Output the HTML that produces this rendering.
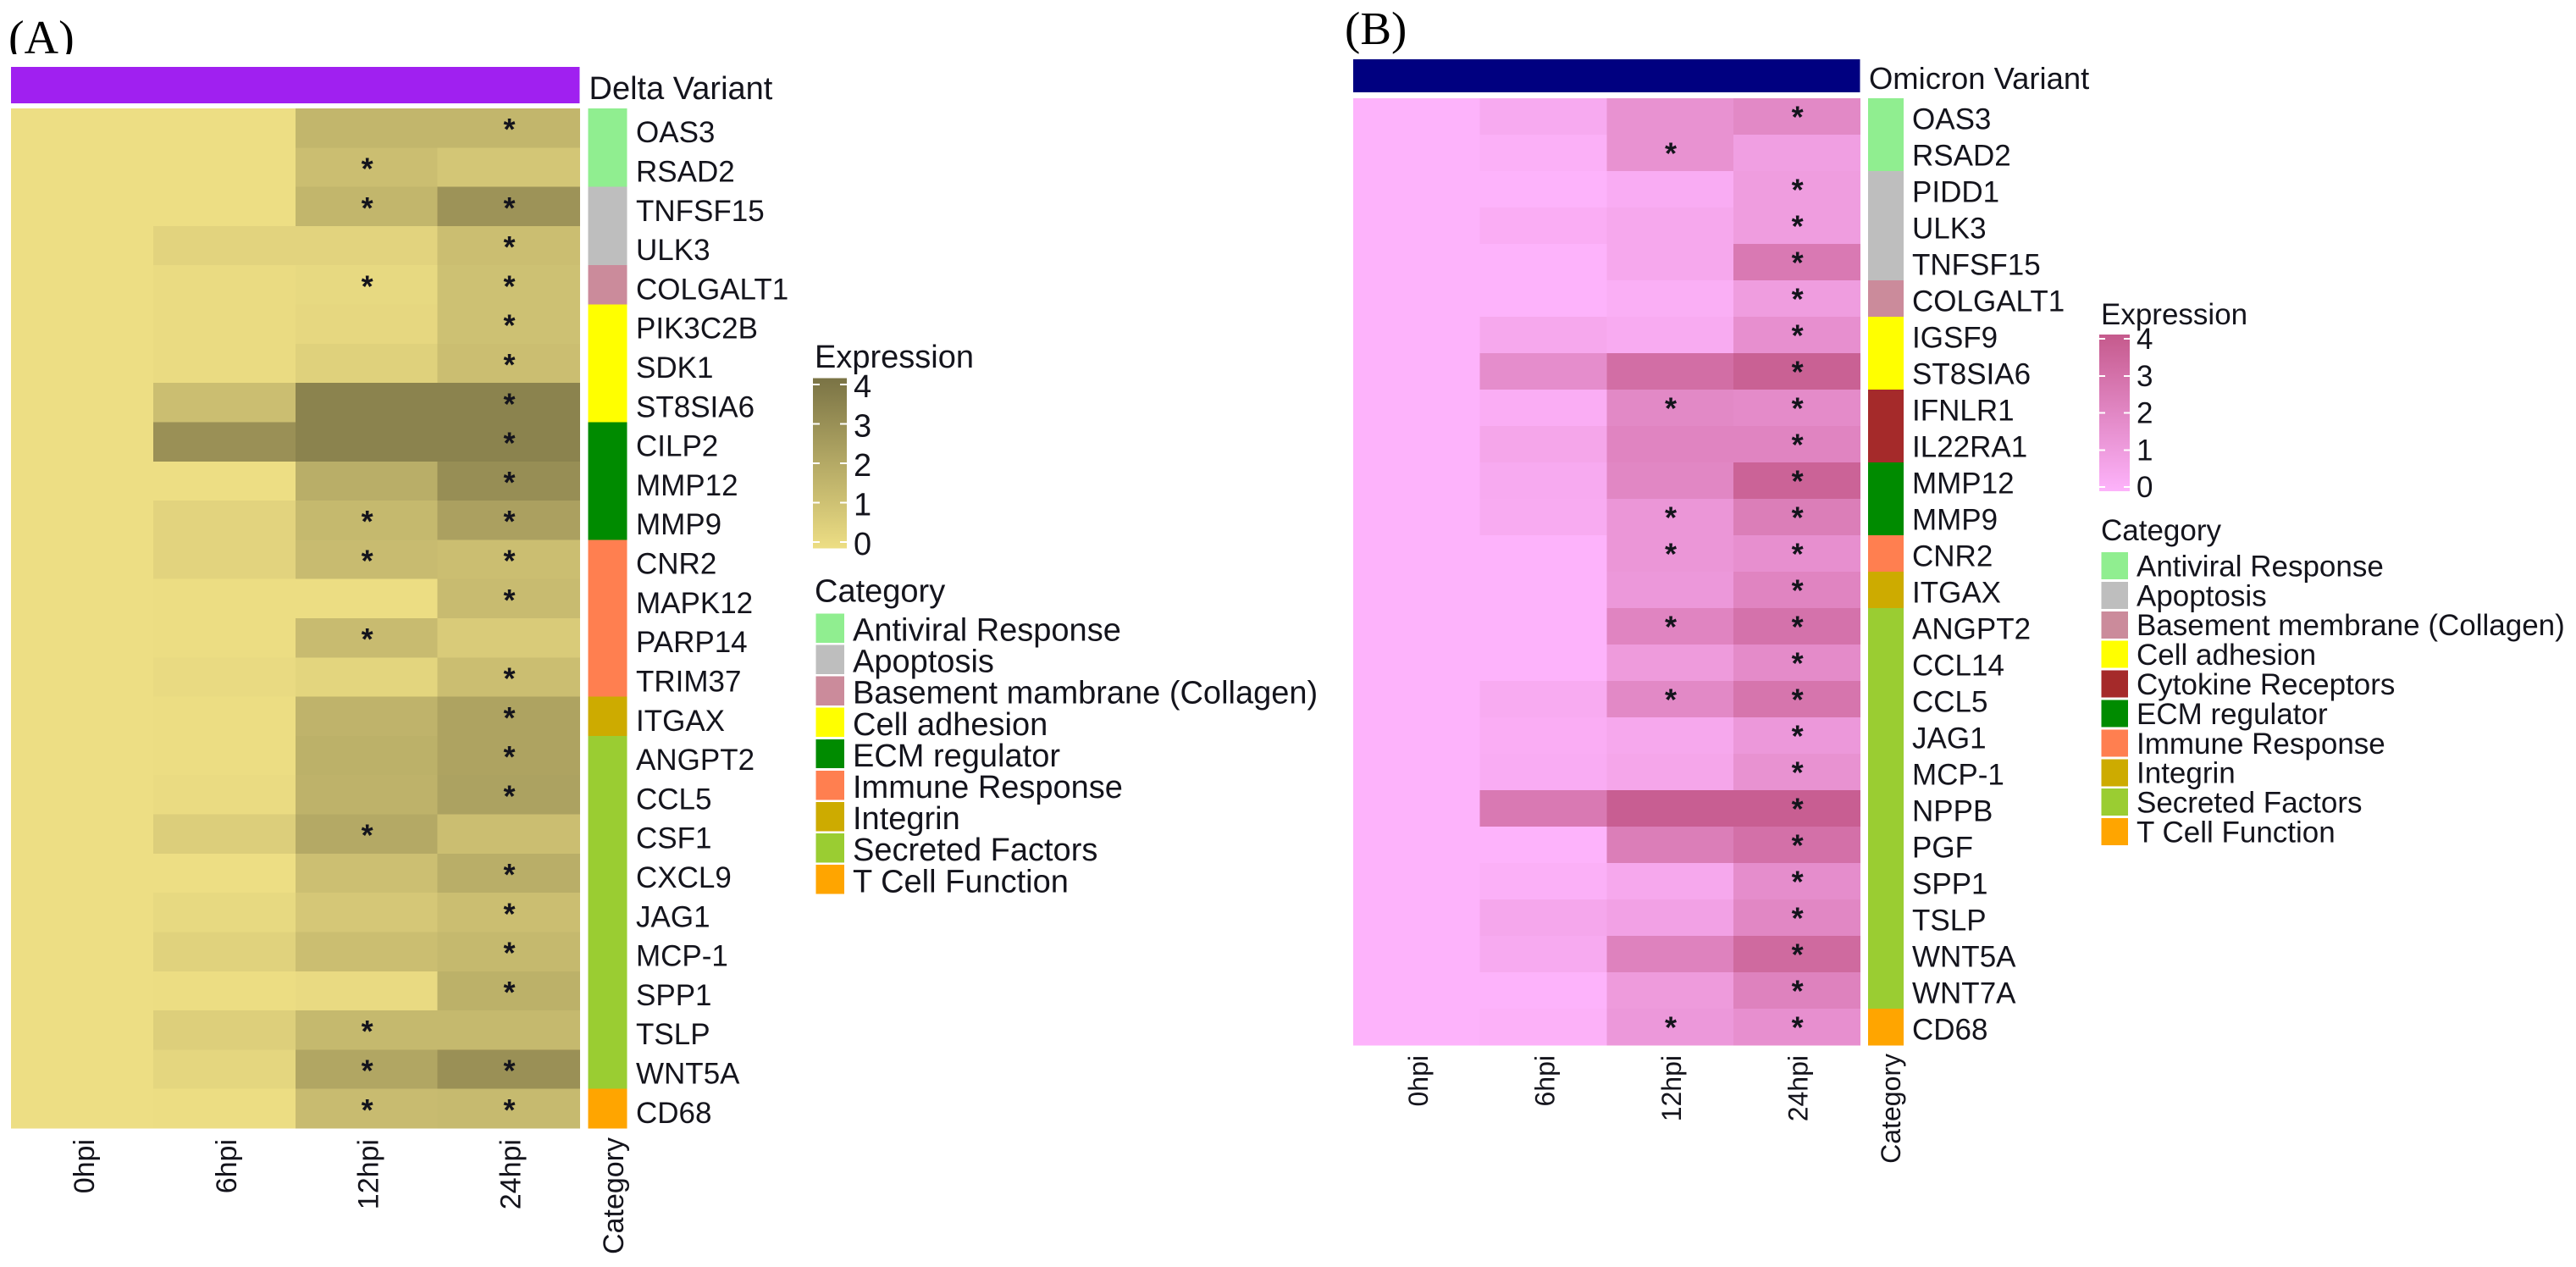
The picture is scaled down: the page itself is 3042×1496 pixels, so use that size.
<!DOCTYPE html>
<html lang="en">
<head>
<meta charset="utf-8">
<title>Delta and Omicron variant expression heatmaps</title>
<style>
html,body{margin:0;padding:0;background:#fff;}
body{width:3042px;height:1496px;overflow:hidden;}
svg{display:block;}
text{font-family:"Liberation Sans",sans-serif;fill:#14141c;}
</style>
</head>
<body>
<svg id="chart" xmlns="http://www.w3.org/2000/svg" width="3042" height="1496" viewBox="0 0 3042 1496">
<rect x="0" y="0" width="3042" height="1496" fill="#ffffff"/>
<text x="10" y="63" style="font-family:'Liberation Serif',serif;font-size:56px;fill:#000">(A)</text>
<rect x="0" y="64" width="110" height="14" fill="#ffffff"/>
<text x="1588" y="52" style="font-family:'Liberation Serif',serif;font-size:55px;fill:#000">(B)</text>
</svg>
<script>
// ---------- shared chart data ----------
var timepoints = ['0hpi', '6hpi', '12hpi', '24hpi'];
var legendTicks = [0, 1, 2, 3, 4];

// ---------- panel A: Delta variant ----------
var deltaGenes = ['OAS3','RSAD2','TNFSF15','ULK3','COLGALT1','PIK3C2B','SDK1','ST8SIA6','CILP2','MMP12','MMP9','CNR2','MAPK12','PARP14','TRIM37','ITGAX','ANGPT2','CCL5','CSF1','CXCL9','JAG1','MCP-1','SPP1','TSLP','WNT5A','CD68'];
var delta0hpi  = [0,0,0,0,0,0,0,0,0,0,0,0,0,0,0,0,0,0,0,0,0,0,0,0,0,0];
var delta6hpi  = [0,0,0,0.4,0.1,0.1,0.1,1.2,2.9,0,0.4,0.4,0.05,0.05,0.15,0.05,0.05,0.1,0.6,0,0.2,0.45,0.05,0.55,0.3,0.05];
var delta12hpi = [1.5,1.2,1.5,0.4,0.2,0.25,0.5,3.4,3.4,1.8,1.4,1.3,0.05,1.3,0.35,1.6,1.7,1.65,2.0,1.15,0.85,1.2,0.15,1.4,2.1,1.3];
var delta24hpi = [1.5,0.9,2.8,1.2,1.1,1.1,1.2,3.4,3.4,3.0,2.3,1.2,1.3,0.7,1.2,2.2,2.2,2.25,1.2,1.8,1.2,1.4,1.7,1.4,2.9,1.35];
var deltaSig12hpi = ['RSAD2','TNFSF15','COLGALT1','MMP9','CNR2','PARP14','CSF1','TSLP','WNT5A','CD68'];
var deltaSig24hpi = ['OAS3','TNFSF15','ULK3','COLGALT1','PIK3C2B','SDK1','ST8SIA6','CILP2','MMP12','MMP9','CNR2','MAPK12','TRIM37','ITGAX','ANGPT2','CCL5','CXCL9','JAG1','MCP-1','SPP1','WNT5A','CD68'];
var deltaGroups = ['Antiviral Response','Apoptosis','Basement mambrane (Collagen)','Cell adhesion','ECM regulator','Immune Response','Integrin','Secreted Factors','T Cell Function'];
var deltaGroupSizes = [2,2,1,3,3,4,1,9,1];
var deltaGroupColors = ['#90EE90','#BEBEBE','#CB8B9B','#FFFF00','#008B00','#FF7F50','#CDAB00','#9ACD32','#FFA500'];

// ---------- panel B: Omicron variant ----------
var omicronGenes = ['OAS3','RSAD2','PIDD1','ULK3','TNFSF15','COLGALT1','IGSF9','ST8SIA6','IFNLR1','IL22RA1','MMP12','MMP9','CNR2','ITGAX','ANGPT2','CCL14','CCL5','JAG1','MCP-1','NPPB','PGF','SPP1','TSLP','WNT5A','WNT7A','CD68'];
var omicron0hpi  = [0,0,0,0,0,0,0,0,0,0,0,0,0,0,0,0,0,0,0,0,0,0,0,0,0,0];
var omicron6hpi  = [0.4,0.15,0,0.25,0,0,0.5,1.7,0.25,0.6,0.4,0.35,0,0,0,0,0.35,0.25,0.3,2.6,0,0.15,0.55,0.4,0,0.1];
var omicron12hpi = [1.5,1.5,0.3,0.5,0.5,0.2,0.35,3.1,1.9,2.1,2.0,1.3,1.3,1.2,2.1,1.1,1.9,0.5,0.6,3.8,2.4,0.5,0.8,2.2,1.1,1.2];
var omicron24hpi = [1.9,0.9,1.0,1.0,2.6,1.0,1.6,3.7,1.8,2.1,3.6,2.4,1.6,2.1,2.9,1.8,2.8,1.2,1.5,3.8,3.0,1.7,2.0,3.3,2.2,1.6];
var omicronSig12hpi = ['RSAD2','IFNLR1','MMP9','CNR2','ANGPT2','CCL5','CD68'];
var omicronSig24hpi = ['OAS3','PIDD1','ULK3','TNFSF15','COLGALT1','IGSF9','ST8SIA6','IFNLR1','IL22RA1','MMP12','MMP9','CNR2','ITGAX','ANGPT2','CCL14','CCL5','JAG1','MCP-1','NPPB','PGF','SPP1','TSLP','WNT5A','WNT7A','CD68'];
var omicronGroups = ['Antiviral Response','Apoptosis','Basement membrane (Collagen)','Cell adhesion','Cytokine Receptors','ECM regulator','Immune Response','Integrin','Secreted Factors','T Cell Function'];
var omicronGroupSizes = [2,3,1,2,2,2,1,1,11,1];
var omicronGroupColors = ['#90EE90','#BEBEBE','#CB8B9B','#FFFF00','#A52A2A','#008B00','#FF7F50','#CDAB00','#9ACD32','#FFA500'];

var SVGNS = 'http://www.w3.org/2000/svg';
var chart = document.getElementById('chart');

function shape(tag, parent) {
  var el = document.createElementNS(SVGNS, tag);
  parent.appendChild(el);
  return el;
}
function box(el, x, y, w, h, fill) {
  el.setAttribute('x', x);
  el.setAttribute('y', y);
  el.setAttribute('width', w);
  el.setAttribute('height', h);
  el.setAttribute('fill', fill);
  el.setAttribute('shape-rendering', 'crispEdges');
}
function label(el, x, y, size, str) {
  el.setAttribute('x', x);
  el.setAttribute('y', y);
  el.setAttribute('font-size', size);
  el.textContent = str;
}
function kebab(s) {
  return String(s).toLowerCase().replace(/[^a-z0-9]+/g, '-').replace(/^-|-$/g, '');
}
function hexToRgb(h) {
  return [parseInt(h.substr(1, 2), 16), parseInt(h.substr(3, 2), 16), parseInt(h.substr(5, 2), 16)];
}

function drawPanel(p) {
  var g = shape('g', chart);
  
  

  var low = hexToRgb(p.low), high = hexToRgb(p.high);
  function colorScale(v) {
    var t = Math.max(0, Math.min(1, v / 4));
    return 'rgb(' + [0, 1, 2].map(function (k) {
      return Math.round(low[k] + (high[k] - low[k]) * t);
    }).join(',') + ')';
  }
  var colW = (p.right - p.left) / timepoints.length;
  var rowH = (p.bottom - p.top) / p.genes.length;
  function xAxis(i) { return p.left + i * colW; }
  function yAxis(i) { return p.top + i * rowH; }
  function legendY(v) { return p.cbTick0 - v * (p.cbTick0 - p.cbTick4) / 4; }

  // variant annotation bar
  var bar = shape('rect', g);
  
  
  box(bar, p.left, p.barTop, p.right - p.left, p.barBottom - p.barTop, p.barColor);
  var barLabel = shape('text', g);
  
  
  label(barLabel, p.stripL + 1, p.barLabelY, p.barLabelSize, p.variant);

  // heatmap cells and significance stars
  p.genes.forEach(function (gene, r) {
    p.series.forEach(function (values, c) {
      var cell = shape('rect', g);
      
      
      box(cell, xAxis(c), yAxis(r), colW + 0.5, rowH + 0.5, colorScale(values[r]));
    });
  });
  p.genes.forEach(function (gene, r) {
    [[2, p.sig12], [3, p.sig24]].forEach(function (pair) {
      if (pair[1].indexOf(gene) < 0) return;
      var star = shape('text', g);
      
      
      label(star, xAxis(pair[0]) + colW / 2 + 1, yAxis(r) + rowH / 2 + p.starDy, 36, '*');
      star.setAttribute('text-anchor', 'middle');
      star.setAttribute('font-weight', 'bold');
    });
    var geneLabel = shape('text', g);
    
    
    label(geneLabel, p.geneX, yAxis(r) + rowH / 2 + p.geneDy, 35, gene);
  });

  // category strip
  var start = 0;
  p.groups.forEach(function (name, i) {
    var seg = shape('rect', g);
    
    
    box(seg, p.stripL, yAxis(start), p.stripR - p.stripL, p.groupSizes[i] * rowH + 0.5, p.groupColors[i]);
    start += p.groupSizes[i];
  });

  // x axis labels
  timepoints.forEach(function (tp, i) {
    var t = shape('text', g);
    
    
    var tx = xAxis(i) + colW / 2 + p.xLabelDx;
    label(t, tx, p.xLabelY, p.xLabelSize, tp);
    t.setAttribute('text-anchor', 'end');
    t.setAttribute('transform', 'rotate(-90 ' + tx + ' ' + p.xLabelY + ')');
  });
  var catAxis = shape('text', g);
  
  
  label(catAxis, p.catAxisX, p.xLabelY - 2, p.xLabelSize, 'Category');
  catAxis.setAttribute('text-anchor', 'end');
  catAxis.setAttribute('transform', 'rotate(-90 ' + p.catAxisX + ' ' + (p.xLabelY - 2) + ')');

  // expression legend
  var expr = shape('text', g);
  
  
  label(expr, p.legendX, p.exprTitleY, p.legendSize, 'Expression');

  var defs = shape('defs', g);
  var grad = shape('linearGradient', defs);
  grad.setAttribute('id', p.id + '-gradient');
  grad.setAttribute('x1', '0');
  grad.setAttribute('y1', '1');
  grad.setAttribute('x2', '0');
  grad.setAttribute('y2', '0');
  legendTicks.forEach(function (v) {
    var stop = shape('stop', grad);
    stop.setAttribute('offset', v / 4);
    stop.setAttribute('stop-color', colorScale(v));
  });
  var cb = shape('rect', g);
  
  
  box(cb, p.cbX, p.cbTop, p.cbW, p.cbBottom - p.cbTop, 'url(#' + p.id + '-gradient)');

  legendTicks.forEach(function (v) {
    var tl = shape('rect', g);
    
    
    box(tl, p.cbX, legendY(v) - 1, p.cbW * 0.2, 2, '#ffffff');
    var tr = shape('rect', g);
    
    
    box(tr, p.cbX + p.cbW * 0.8, legendY(v) - 1, p.cbW * 0.2, 2, '#ffffff');
    var tt = shape('text', g);
    
    
    label(tt, p.cbLabelX, legendY(v) + p.cbLabelDy, p.legendSize, String(v));
  });

  // category legend
  var catTitle = shape('text', g);
  
  
  label(catTitle, p.legendX, p.catTitleY, p.legendSize, 'Category');

  p.groups.forEach(function (name, i) {
    var sw = shape('rect', g);
    
    
    box(sw, p.swatchX, p.swatchTop + i * p.swatchPitch, p.swatchW, p.swatchH, p.groupColors[i]);
    var st = shape('text', g);
    
    
    label(st, p.entryX, p.entryY + i * p.swatchPitch, p.legendSize, name);
  });
}

drawPanel({
  id: 'delta', variant: 'Delta Variant',
  genes: deltaGenes, series: [delta0hpi, delta6hpi, delta12hpi, delta24hpi],
  sig12: deltaSig12hpi, sig24: deltaSig24hpi,
  groups: deltaGroups, groupSizes: deltaGroupSizes, groupColors: deltaGroupColors,
  low: '#EDDE84', high: '#7A7345', barColor: '#A020F0',
  left: 13, right: 684.5, top: 128, bottom: 1332, barTop: 79, barBottom: 122,
  barLabelY: 117, barLabelSize: 38,
  stripL: 694.5, stripR: 740.5, geneX: 751, geneDy: 17, starDy: 14,
  xLabelDx: 14, xLabelY: 1345, xLabelSize: 34, catAxisX: 736,
  legendX: 962, legendSize: 38, exprTitleY: 434,
  cbX: 960, cbW: 40, cbTop: 446.5, cbBottom: 647.5, cbTick0: 640, cbTick4: 454,
  cbLabelX: 1008, cbLabelDy: 15,
  catTitleY: 710.5, swatchX: 963.5, swatchW: 33.5, swatchH: 34.4, swatchTop: 724.4, swatchPitch: 37.1,
  entryX: 1007, entryY: 756.5
});

drawPanel({
  id: 'omicron', variant: 'Omicron Variant',
  genes: omicronGenes, series: [omicron0hpi, omicron6hpi, omicron12hpi, omicron24hpi],
  sig12: omicronSig12hpi, sig24: omicronSig24hpi,
  groups: omicronGroups, groupSizes: omicronGroupSizes, groupColors: omicronGroupColors,
  low: '#FDB3FB', high: '#C55A8C', barColor: '#000080',
  left: 1598, right: 2196.5, top: 116, bottom: 1234, barTop: 70, barBottom: 109,
  barLabelY: 105, barLabelSize: 36.4,
  stripL: 2206, stripR: 2248, geneX: 2258, geneDy: 15, starDy: 13,
  xLabelDx: 13, xLabelY: 1246, xLabelSize: 32, catAxisX: 2244,
  legendX: 2481, legendSize: 35, exprTitleY: 383,
  cbX: 2479, cbW: 36, cbTop: 395, cbBottom: 580, cbTick0: 575, cbTick4: 400,
  cbLabelX: 2523, cbLabelDy: 12,
  catTitleY: 638, swatchX: 2481.5, swatchW: 31.5, swatchH: 32, swatchTop: 652, swatchPitch: 34.9,
  entryX: 2523, entryY: 680.4
});
</script>
</body>
</html>
